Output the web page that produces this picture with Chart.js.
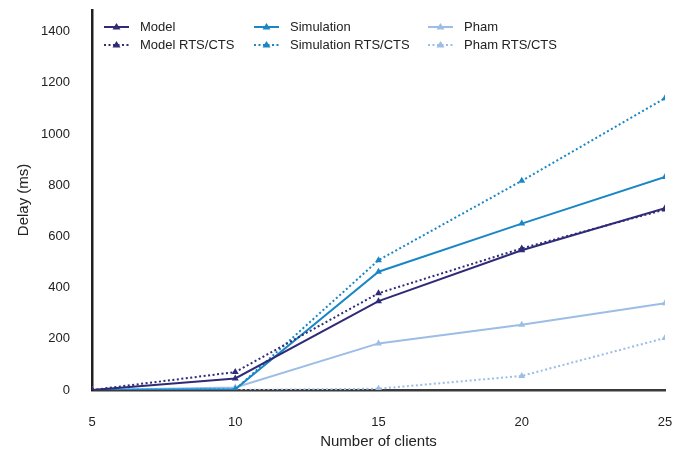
<!DOCTYPE html>
<html><head><meta charset="utf-8">
<script src="https://cdn.jsdelivr.net/npm/chart.js@4/dist/chart.umd.min.js"></script>
<style>html,body{margin:0;padding:0;background:#fff}#wrap{width:687px;height:457px}</style>
</head><body><div id="wrap"><canvas id="c"></canvas></div>
<script>
const clients = [5, 10, 15, 20, 25];
const model = [0, 45, 347, 546, 710];
const modelRts = [0, 70, 378, 553, 705];
const simulation = [0, 3, 462, 650, 832];
const simulationRts = [0, 2, 507, 817, 1140];
const pham = [0, 10, 182, 255, 339];
const phamRts = [0, 0, 5, 55, 203];
const yTicks = [0, 200, 400, 600, 800, 1000, 1200, 1400];
const xTicks = [5, 10, 15, 20, 25];

const NAVY = '#2f2b78', BLUE = '#1b86c6', LIGHT = '#9cbde6';
const FONT = '"Liberation Sans", Arial, sans-serif';
function ds(label, vals, color, dotted) {
  return {
    label, data: clients.map((c, i) => ({x: c, y: vals[i]})),
    borderColor: color, backgroundColor: color, borderWidth: 2,
    borderDash: dotted ? [2, 2.5] : [], pointStyle: 'triangle',
    pointRadius: 4, pointBorderWidth: 0, pointBackgroundColor: color, tension: 0
  };
}
const datasets = [
  ds('Model', model, NAVY, false),
  ds('Model RTS/CTS', modelRts, NAVY, true),
  ds('Simulation', simulation, BLUE, false),
  ds('Simulation RTS/CTS', simulationRts, BLUE, true),
  ds('Pham', pham, LIGHT, false),
  ds('Pham RTS/CTS', phamRts, LIGHT, true)
];

const legendPlugin = {
  id: 'gridLegend',
  afterDraw(chart) {
    const ctx = chart.ctx;
    const colX = [104, 254, 428];
    const rowY = [27, 45];
    ctx.save();
    ctx.font = '13px ' + FONT;
    ctx.textBaseline = 'middle';
    chart.data.datasets.forEach((d, i) => {
      const col = Math.floor(i / 2), row = i % 2;
      const x = colX[col], y = rowY[row];
      ctx.strokeStyle = d.borderColor; ctx.lineWidth = 2;
      ctx.setLineDash(d.borderDash);
      ctx.beginPath(); ctx.moveTo(x, y); ctx.lineTo(x + 25, y); ctx.stroke();
      ctx.setLineDash([]);
      ctx.fillStyle = d.borderColor;
      const cx = x + 12.5, r = 4;
      ctx.beginPath();
      ctx.moveTo(cx, y - r); ctx.lineTo(cx + r, y + r * 0.6); ctx.lineTo(cx - r, y + r * 0.6); ctx.closePath(); ctx.fill();
      ctx.fillStyle = '#222';
      ctx.fillText(d.label, x + 36, y);
    });
    ctx.restore();
  }
};

new Chart(document.getElementById('c'), {
  type: 'line',
  data: { datasets },
  plugins: [legendPlugin],
  options: {
    responsive: true, maintainAspectRatio: false, animation: false,
    layout: { padding: { left: 0, right: 22, top: 9, bottom: 0 } },
    plugins: { legend: { display: false }, tooltip: { enabled: false } },
    scales: {
      x: {
        type: 'linear', min: 5, max: 25,
        afterBuildTicks: s => { s.ticks = xTicks.map(v => ({value: v})); },
        afterFit: s => { s.height = 67; },
        grid: { display: false, drawTicks: true, tickLength: 23 },
        border: { display: true, color: '#3a3a3a', width: 2.5 },
        ticks: { color: '#222', padding: 2, maxRotation: 0, callback: v => String(v), font: { size: 13, family: FONT } },
        title: { display: true, text: 'Number of clients', color: '#222', padding: { top: 6, bottom: 6 }, font: { size: 15, family: FONT } }
      },
      y: {
        min: 0, max: 1485,
        afterBuildTicks: s => { s.ticks = yTicks.map(v => ({value: v})); },
        afterFit: s => { s.width = 92; },
        grid: { display: false, drawTicks: true, tickLength: 20 },
        border: { display: true, color: '#231f20', width: 2.5 },
        ticks: { color: '#222', padding: 2, callback: v => String(v), font: { size: 13, family: FONT } },
        title: { display: true, text: 'Delay (ms)', color: '#222', padding: { top: 15, bottom: 15 }, font: { size: 15, family: FONT } }
      }
    }
  }
});
</script></body></html>
